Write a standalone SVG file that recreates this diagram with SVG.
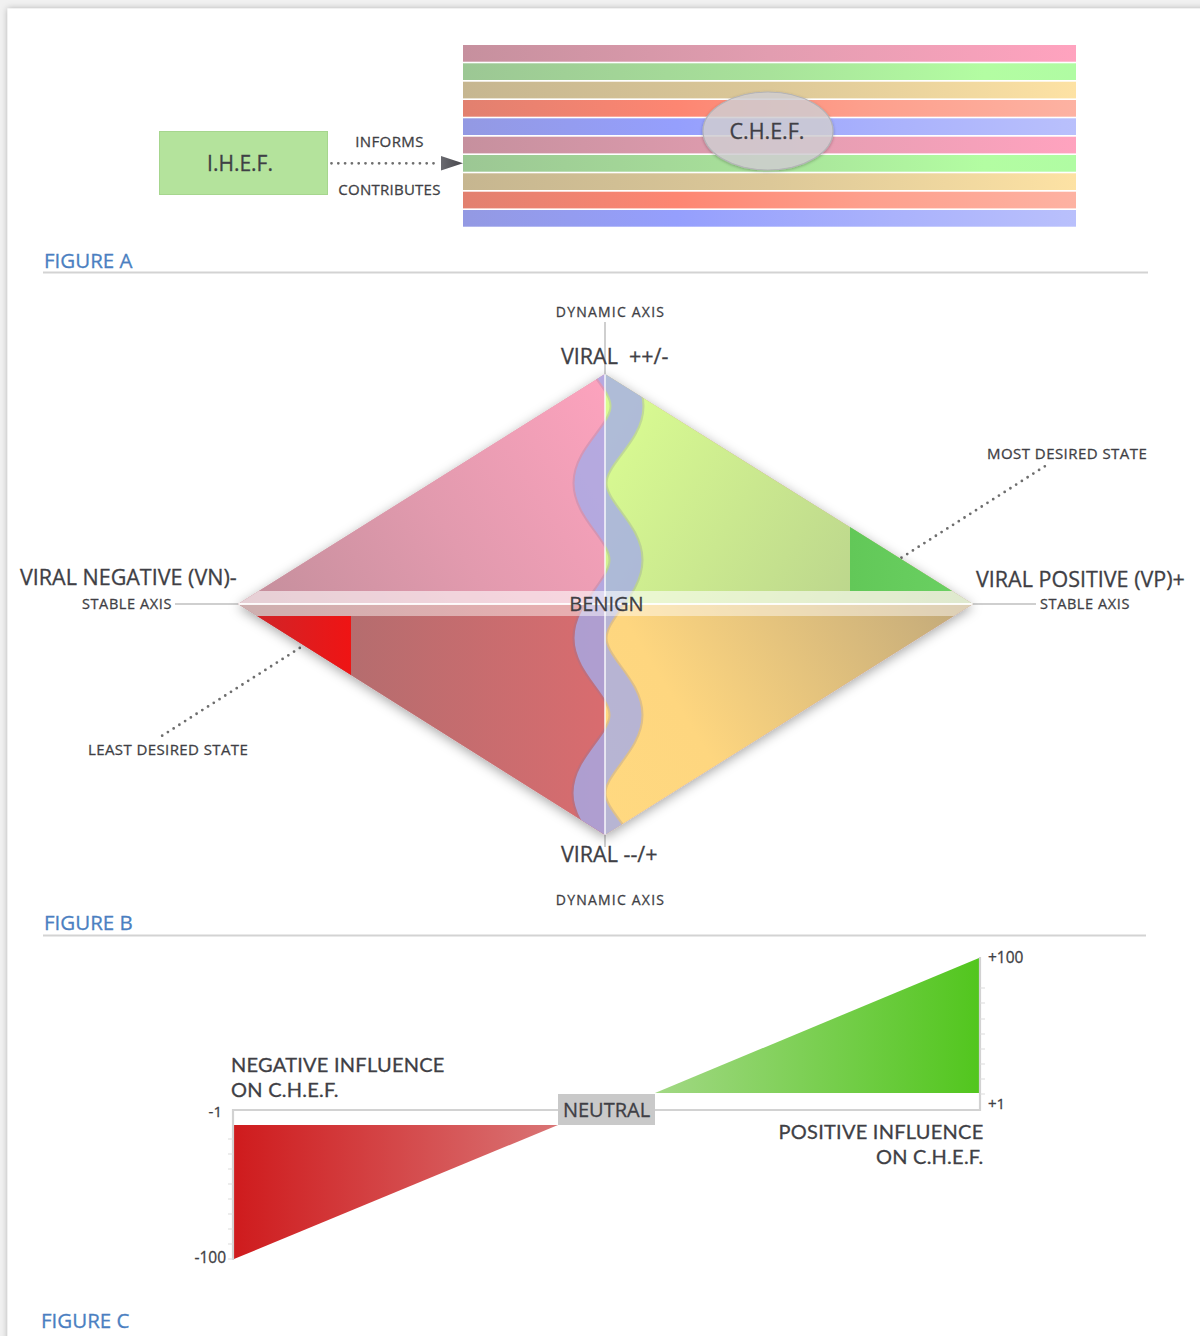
<svg xmlns="http://www.w3.org/2000/svg" width="1200" height="1336" viewBox="0 0 1200 1336">
<defs>
<style>
.t{font-family:"Open Sans","Lato","DejaVu Sans",sans-serif;fill:#3f3f45;stroke:#3f3f45;stroke-width:0.3}
.tl{font-family:"Lato","Open Sans","DejaVu Sans",sans-serif;fill:#3f3f45;stroke:#3f3f45;stroke-width:0.3}
.fig{font-family:"Open Sans","Lato",sans-serif;fill:#4b7fc1;stroke:#4b7fc1;stroke-width:0.3;font-size:20.5px}
.rule{stroke:#d3d3d3;stroke-width:2}
.axis{stroke:#d2d2d2;stroke-width:2.2;fill:none}
.tick{stroke:#dcdcdc;stroke-width:1.2}
.dots{stroke:#6e6e6e;stroke-width:2.8;stroke-linecap:round;stroke-dasharray:0 6.8;fill:none}
</style>
<filter id="cardShadow" x="-5%" y="-5%" width="110%" height="110%">
<feDropShadow dx="0" dy="0" stdDeviation="3" flood-color="#000" flood-opacity="0.28"/>
</filter>
<filter id="softShadow" x="-20%" y="-20%" width="140%" height="140%">
<feDropShadow dx="0" dy="3" stdDeviation="6" flood-color="#000" flood-opacity="0.35"/>
</filter>
<filter id="ellShadow" x="-20%" y="-20%" width="140%" height="140%">
<feDropShadow dx="0" dy="1" stdDeviation="1.5" flood-color="#000" flood-opacity="0.3"/>
</filter>
<linearGradient id="sPink" gradientUnits="userSpaceOnUse" x1="463" y1="0" x2="1076" y2="0">
<stop offset="0" stop-color="#c6909e"/><stop offset="0.5" stop-color="#e29db0"/><stop offset="1" stop-color="#ffa3bf"/>
</linearGradient>
<linearGradient id="sGreen" gradientUnits="userSpaceOnUse" x1="463" y1="0" x2="1076" y2="0">
<stop offset="0" stop-color="#9cc794"/><stop offset="0.5" stop-color="#a8e29a"/><stop offset="0.85" stop-color="#b3fda2"/><stop offset="1" stop-color="#b0fca3"/>
</linearGradient>
<linearGradient id="sTan" gradientUnits="userSpaceOnUse" x1="463" y1="0" x2="1076" y2="0">
<stop offset="0" stop-color="#c6b690"/><stop offset="0.5" stop-color="#dcc898"/><stop offset="1" stop-color="#fde2a4"/>
</linearGradient>
<linearGradient id="sSalmon" gradientUnits="userSpaceOnUse" x1="463" y1="0" x2="1076" y2="0">
<stop offset="0" stop-color="#e2806f"/><stop offset="0.35" stop-color="#fd8672"/><stop offset="0.65" stop-color="#fd9f8c"/><stop offset="1" stop-color="#fdb2a2"/>
</linearGradient>
<linearGradient id="sBlue" gradientUnits="userSpaceOnUse" x1="463" y1="0" x2="1076" y2="0">
<stop offset="0" stop-color="#9399e3"/><stop offset="0.35" stop-color="#959ffd"/><stop offset="0.7" stop-color="#aab2fc"/><stop offset="1" stop-color="#b9c0fc"/>
</linearGradient>
<linearGradient id="arrowG" x1="0" y1="0" x2="1" y2="0">
<stop offset="0" stop-color="#6a6a70"/><stop offset="1" stop-color="#45454a"/>
</linearGradient>
<linearGradient id="gTL" gradientUnits="userSpaceOnUse" x1="238" y1="604" x2="605" y2="374">
<stop offset="0" stop-color="#c38e9b"/><stop offset="0.5" stop-color="#e29aae"/><stop offset="1" stop-color="#fda3be"/>
</linearGradient>
<linearGradient id="gTR" gradientUnits="userSpaceOnUse" x1="605" y1="374" x2="973" y2="604">
<stop offset="0" stop-color="#dcff92"/><stop offset="1" stop-color="#b2c98b"/>
</linearGradient>
<linearGradient id="gBL" gradientUnits="userSpaceOnUse" x1="238" y1="700" x2="605" y2="700">
<stop offset="0" stop-color="#a56d6e"/><stop offset="1" stop-color="#d96c6f"/>
</linearGradient>
<linearGradient id="gBR" gradientUnits="userSpaceOnUse" x1="605" y1="835" x2="973" y2="604">
<stop offset="0" stop-color="#ffd980"/><stop offset="0.3" stop-color="#fed67f"/><stop offset="1" stop-color="#c0a87a"/>
</linearGradient>
<linearGradient id="gRed" gradientUnits="userSpaceOnUse" x1="255" y1="0" x2="351" y2="0">
<stop offset="0" stop-color="#d02428"/><stop offset="1" stop-color="#ef1414"/>
</linearGradient>
<linearGradient id="gGreen" gradientUnits="userSpaceOnUse" x1="850" y1="0" x2="960" y2="0">
<stop offset="0" stop-color="#62c858"/><stop offset="1" stop-color="#6ad062"/>
</linearGradient>
<linearGradient id="gRedC" gradientUnits="userSpaceOnUse" x1="234" y1="0" x2="558" y2="0">
<stop offset="0" stop-color="#cf1b1d"/><stop offset="1" stop-color="#d97475"/>
</linearGradient>
<linearGradient id="gGreenC" gradientUnits="userSpaceOnUse" x1="655" y1="0" x2="979" y2="0">
<stop offset="0" stop-color="#a2d884"/><stop offset="1" stop-color="#52c61e"/>
</linearGradient>
<clipPath id="diamondClip">
<polygon points="238,604 605,374 973,604 605,835"/>
</clipPath>
</defs>

<rect x="0" y="0" width="1200" height="1336" fill="#f1f1f1"/>
<rect id="card" x="7.5" y="8.5" width="1260" height="1400" fill="#ffffff" filter="url(#cardShadow)"/>

<!-- FIGURE A -->
<g id="ihef">
<rect x="159.5" y="131.5" width="168" height="63" fill="#b4e39c" stroke="#a6d68e" stroke-width="1"/>
<text class="t" x="240" y="170.5" font-size="21" text-anchor="middle">I.H.E.F.</text>
</g>

<g id="chef">
<rect x="463" y="45" width="613" height="16.7" fill="url(#sPink)"/>
<rect x="463" y="63.3" width="613" height="16.7" fill="url(#sGreen)"/>
<rect x="463" y="81.7" width="613" height="16.7" fill="url(#sTan)"/>
<rect x="463" y="100" width="613" height="16.7" fill="url(#sSalmon)"/>
<rect x="463" y="118.3" width="613" height="16.7" fill="url(#sBlue)"/>
<rect x="463" y="136.7" width="613" height="16.7" fill="url(#sPink)"/>
<rect x="463" y="155" width="613" height="16.7" fill="url(#sGreen)"/>
<rect x="463" y="173.3" width="613" height="16.7" fill="url(#sTan)"/>
<rect x="463" y="191.7" width="613" height="16.7" fill="url(#sSalmon)"/>
<rect x="463" y="210" width="613" height="16.7" fill="url(#sBlue)"/>
<ellipse cx="768" cy="131" rx="65" ry="39" fill="#d4d2d6" fill-opacity="0.8" stroke="#b4b4b8" stroke-width="1.2" filter="url(#ellShadow)"/>
<text class="t" x="767" y="139" font-size="21.5" text-anchor="middle">C.H.E.F.</text>
</g>

<g id="connectors">
<line class="dots" x1="331.5" y1="163.3" x2="438" y2="163.3"/>
<polygon points="441,156 463,163.3 441,170.6" fill="url(#arrowG)"/>
<text class="t" x="389.5" y="147" font-size="15" letter-spacing="0.4" text-anchor="middle">INFORMS</text>
<text class="t" x="389.5" y="195" font-size="15" letter-spacing="0.25" text-anchor="middle">CONTRIBUTES</text>
<line class="dots" x1="890" y1="565" x2="1050" y2="463"/>
<line class="dots" x1="317" y1="637" x2="157" y2="739"/>
</g>

<g id="figureA-label">
<text class="fig" x="44" y="268">FIGURE A</text>
<line class="rule" x1="43" y1="272.5" x2="1148" y2="272.5"/>
</g>

<!-- FIGURE B -->
<g id="axes-b">
<line x1="605" y1="322" x2="605" y2="374" stroke="#cfcfcf" stroke-width="2"/>
<line x1="605" y1="835" x2="605" y2="847" stroke="#cfcfcf" stroke-width="2"/>
<line x1="175" y1="604" x2="238" y2="604" stroke="#cfcfcf" stroke-width="2"/>
<line x1="973" y1="604" x2="1036" y2="604" stroke="#cfcfcf" stroke-width="2"/>
</g>

<g id="diamond">
<polygon points="238,604 605,374 973,604 605,835" fill="#d0a0a8" filter="url(#softShadow)"/>
<polygon points="238,604 605,374 605,604" fill="url(#gTL)"/>
<polygon points="605,374 973,604 605,604" fill="url(#gTR)"/>
<polygon points="238,604 605,604 605,835" fill="url(#gBL)"/>
<polygon points="605,604 973,604 605,835" fill="url(#gBR)"/>
</g>

<g id="least-desired">
<polygon points="257,616 351,616 351,675" fill="url(#gRed)"/>
</g>
<g id="most-desired">
<polygon points="850,527 952,591 850,591" fill="url(#gGreen)"/>
</g>

<g id="wave" clip-path="url(#diamondClip)">
<path d="M 590 329 C 590 357, 627 378, 627 406 C 627 434, 590 455, 590 483 C 590 511, 626 532, 626 560 C 626 588, 590 610, 590 638 C 590 666, 626 687, 626 715 C 626 743, 589 765, 589 793 C 589 821, 626 842, 626 870" fill="none" stroke="#7a78a8" stroke-opacity="0.25" stroke-width="35"/>
<path d="M 590 329 C 590 357, 627 378, 627 406 C 627 434, 590 455, 590 483 C 590 511, 626 532, 626 560 C 626 588, 590 610, 590 638 C 590 666, 626 687, 626 715 C 626 743, 589 765, 589 793 C 589 821, 626 842, 626 870" fill="none" stroke="#a8b0f0" stroke-opacity="0.72" stroke-width="31"/>
</g>

<g id="benign" clip-path="url(#diamondClip)">
<rect x="230" y="591" width="750" height="13" fill="#ffffff" fill-opacity="0.58"/>
<rect x="230" y="604" width="750" height="12" fill="#ffffff" fill-opacity="0.45"/>
<line x1="230" y1="604" x2="980" y2="604" stroke="#ffffff" stroke-width="2" stroke-opacity="0.9"/>
<line x1="605" y1="374" x2="605" y2="835" stroke="#ffffff" stroke-width="1.6" stroke-opacity="0.85"/>
</g>
<text class="t" x="606.5" y="611" font-size="20" text-anchor="middle">BENIGN</text>

<g id="labels-b">
<text class="t" x="610.5" y="317" font-size="14" letter-spacing="1.2" text-anchor="middle">DYNAMIC AXIS</text>
<text class="t" x="561" y="364" font-size="21.5">VIRAL <tspan x="629">++/-</tspan></text>
<text class="t" x="561" y="862" font-size="21.5">VIRAL --/+</text>
<text class="t" x="610.5" y="905" font-size="14" letter-spacing="1.2" text-anchor="middle">DYNAMIC AXIS</text>
<text class="t" x="20" y="585" font-size="21.5">VIRAL NEGATIVE (VN)-</text>
<text class="t" x="172" y="609" font-size="14.5" letter-spacing="0.6" text-anchor="end">STABLE AXIS</text>
<text class="t" x="976" y="587" font-size="21.5">VIRAL POSITIVE (VP)+</text>
<text class="t" x="1040" y="609" font-size="14.5" letter-spacing="0.6">STABLE AXIS</text>
<text class="t" x="987" y="459" font-size="15" letter-spacing="0.45">MOST DESIRED STATE</text>
<text class="t" x="88" y="755" font-size="15" letter-spacing="0.4">LEAST DESIRED STATE</text>
</g>

<g id="figureB-label">
<text class="fig" x="44" y="930">FIGURE B</text>
<line class="rule" x1="43" y1="935.5" x2="1146" y2="935.5"/>
</g>

<!-- FIGURE C -->
<g id="negative-influence">
<polygon points="234,1125 558,1125 234,1259" fill="url(#gRedC)"/>
<path class="axis" d="M 233 1109 L 233 1260 M 232 1110 L 558 1110"/>
<path class="tick" d="M 228 1139 H 233 M 228 1154 H 233 M 228 1169 H 233 M 228 1184 H 233 M 228 1199 H 233 M 228 1214 H 233 M 228 1229 H 233 M 228 1244 H 233 M 228 1259 H 233"/>
<text class="t" x="222" y="1117" font-size="15" text-anchor="end">-1</text>
<text class="t" x="226" y="1263" font-size="15.5" text-anchor="end">-100</text>
<text class="tl" x="231" y="1072" font-size="20" letter-spacing="0.25">NEGATIVE INFLUENCE</text>
<text class="tl" x="231" y="1097" font-size="20" letter-spacing="0.25">ON C.H.E.F.</text>
</g>

<g id="neutral">
<rect x="558" y="1094" width="97" height="31" fill="#c9c9c9"/>
<text class="t" x="606.5" y="1117" font-size="20" text-anchor="middle">NEUTRAL</text>
</g>

<g id="positive-influence">
<polygon points="655,1093 979,958 979,1093" fill="url(#gGreenC)"/>
<path class="axis" d="M 980 957 L 980 1111 M 655 1110 L 981 1110"/>
<path class="tick" d="M 980 988 H 985 M 980 1003 H 985 M 980 1019 H 985 M 980 1034 H 985 M 980 1049 H 985 M 980 1064 H 985 M 980 1079 H 985 M 980 1094 H 985"/>
<text class="t" x="988" y="963" font-size="15.5">+100</text>
<text class="t" x="988" y="1109" font-size="15">+1</text>
<text class="tl" x="983.5" y="1139" font-size="20" letter-spacing="0.25" text-anchor="end">POSITIVE INFLUENCE</text>
<text class="tl" x="983.5" y="1164" font-size="20" letter-spacing="0.25" text-anchor="end">ON C.H.E.F.</text>
</g>

<g id="figureC-label">
<text class="fig" x="41" y="1328">FIGURE C</text>
</g>
</svg>
